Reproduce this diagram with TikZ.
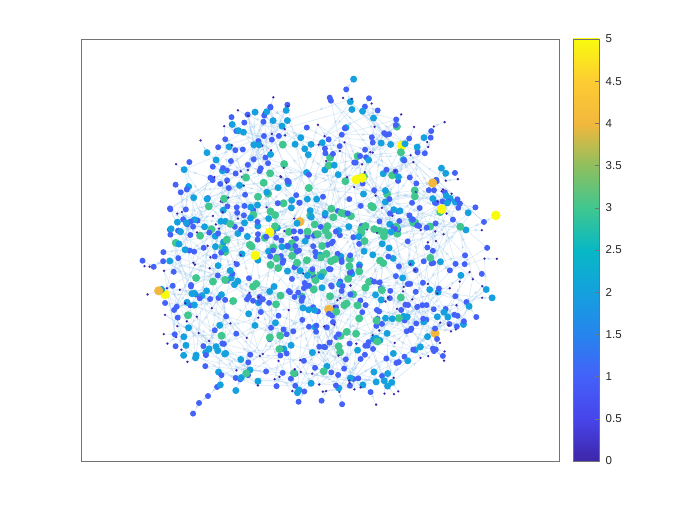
\documentclass[tikz,border=0pt]{standalone}
\usepackage{fontspec}
\setmainfont{Liberation Sans}
\usetikzlibrary{arrows.meta,decorations.markings}
\definecolor{pa0}{rgb}{0.2422,0.1504,0.6603}
\definecolor{pa1}{rgb}{0.2780,0.2700,0.9200}
\definecolor{pa2}{rgb}{0.2650,0.3800,0.9750}
\definecolor{pa3}{rgb}{0.1500,0.5200,0.9300}
\definecolor{pa4}{rgb}{0.0800,0.6300,0.8700}
\definecolor{pa5}{rgb}{0.0300,0.7200,0.7700}
\definecolor{pa6}{rgb}{0.2500,0.7800,0.5600}
\definecolor{pa7}{rgb}{0.5600,0.7500,0.3700}
\definecolor{pa8}{rgb}{0.9500,0.7200,0.2400}
\definecolor{pa9}{rgb}{0.9900,0.8000,0.2000}
\definecolor{pa10}{rgb}{0.9763,0.9831,0.0538}
\colorlet{c0}{pa0}\colorlet{c1}{pa2}\colorlet{c2}{pa4}
\colorlet{c3}{pa6}\colorlet{c4}{pa8}\colorlet{c5}{pa10}
\definecolor{edgec}{rgb}{0.70,0.83,0.94}
\definecolor{axcol}{rgb}{0.45,0.45,0.45}
\pgfdeclareverticalshading{parula}{100bp}{color(0bp)=(pa0); color(25bp)=(pa0);
 color(30bp)=(pa1); color(35bp)=(pa2); color(40bp)=(pa3); color(45bp)=(pa4);
 color(50bp)=(pa5); color(55bp)=(pa6); color(60bp)=(pa7); color(65bp)=(pa8);
 color(70bp)=(pa9); color(75bp)=(pa10); color(100bp)=(pa10)}
\expandafter\def\csname RAD0\endcsname{1.3pt}
\expandafter\def\csname RAD1\endcsname{3.0pt}
\expandafter\def\csname RAD2\endcsname{3.5pt}
\expandafter\def\csname RAD3\endcsname{4.0pt}
\expandafter\def\csname RAD4\endcsname{4.6pt}
\expandafter\def\csname RAD5\endcsname{4.8pt}
\def\NM{840}
\def\NN{950}
\newcommand\findnear[3]{% node, tries, upper index
  \gdef\best{0}\gdef\bestd{9999}%
  \edef\mynx{\csname PX#1\endcsname}\edef\myny{\csname PY#1\endcsname}%
  \foreach \k in {1,...,#2}{%
    \pgfmathtruncatemacro\jj{random(1,#3)}%
    \ifnum\jj=#1\relax\else
      \edef\myxj{\csname PX\jj\endcsname}\edef\myyj{\csname PY\jj\endcsname}%
      \pgfmathsetmacro\ddx{(\mynx-\myxj)/10}%
      \pgfmathsetmacro\ddy{(\myny-\myyj)/10}%
      \pgfmathsetmacro\dd{\ddx*\ddx+\ddy*\ddy}%
      \pgfmathtruncatemacro\ok{\dd<\bestd}%
      \ifnum\ok=1 \xdef\best{\jj}\xdef\bestd{\dd}\fi
    \fi
  }%
}
\newcommand\pickouter[1]{% choose among tries the node with largest radius
  \gdef\parb{1}\gdef\parr{0}%
  \foreach \k in {1,...,#1}{%
    \pgfmathtruncatemacro\jj{random(1,\cnt)}%
    \edef\myrj{\csname PR\jj\endcsname}%
    \pgfmathtruncatemacro\ok{\myrj>\parr}%
    \ifnum\ok=1 \xdef\parb{\jj}\xdef\parr{\myrj}\fi
  }%
}
\newcommand\setval[2]{% radius value, result macro
  \pgfmathsetmacro\ua{rnd}%
  \pgfmathsetmacro\ss{rnd+0.35*(0.45-#1)}%
  \pgfmathtruncatemacro#2{\ua<0.009 ? 4 : (\ua<0.018 ? 5 : (\ss<0.15 ? 0 : (\ss<0.57 ? 1 : (\ss<0.81 ? 2 : 3))))}%
}
\begin{document}
\begin{tikzpicture}[x=1pt,y=-1pt,
  edge/.style={draw=edgec, draw opacity=0.55, line width=0.5pt,
    postaction={decorate, decoration={markings,
      mark=at position 0.5 with {\arrow[edgec, opacity=0.55]{Stealth[length=3.5pt,width=3pt]}}}}},
  lab/.style={anchor=west, inner sep=1.5pt, font=\fontsize{11.5}{13}\selectfont, text=black!85}]
\useasboundingbox[fill=white] (0,0) rectangle (692,519);
\pgfmathsetseed{2024}
% main cloud
\foreach \i in {1,...,\NM}{
  \pgfmathsetmacro\ang{360*rnd}
  \pgfmathsetmacro\rr{(rnd*0.999+0.001)^0.58*(1+0.04*sin(3*\ang+40)+0.03*cos(5*\ang))}
  \pgfmathsetmacro\px{319+165*\rr*cos(\ang)}
  \pgfmathsetmacro\py{250+150*\rr*sin(\ang)}
  \setval{\rr}{\vv}
  \expandafter\xdef\csname PX\i\endcsname{\px}
  \expandafter\xdef\csname PY\i\endcsname{\py}
  \expandafter\xdef\csname PR\i\endcsname{\rr}
  \expandafter\xdef\csname PV\i\endcsname{\vv}
  \expandafter\xdef\csname PP\i\endcsname{0}
  \coordinate (n\i) at (\px,\py);
}
% tendrils growing outward
\pgfmathtruncatemacro\first{\NM+1}
\foreach \i in {\first,...,\NN}{
  \pgfmathtruncatemacro\cnt{\i-1}
  \xdef\cnt{\cnt}
  \pickouter{4}
  \edef\bx{\csname PX\parb\endcsname}\edef\by{\csname PY\parb\endcsname}
  \pgfmathsetmacro\ang{atan2(\by-250,\bx-319)+80*(rnd-0.5)}
  \pgfmathsetmacro\len{9+6*rnd}
  \pgfmathsetmacro\px{\bx+\len*cos(\ang)}
  \pgfmathsetmacro\py{\by+\len*sin(\ang)}
  \pgfmathsetmacro\rr{sqrt(((\px-319)/165)^2+((\py-250)/150)^2)}
  \setval{\rr}{\vv}
  \expandafter\xdef\csname PX\i\endcsname{\px}
  \expandafter\xdef\csname PY\i\endcsname{\py}
  \expandafter\xdef\csname PR\i\endcsname{\rr}
  \expandafter\xdef\csname PV\i\endcsname{\vv}
  \expandafter\xdef\csname PP\i\endcsname{\parb}
  \coordinate (n\i) at (\px,\py);
}
% edges
\foreach \i in {1,...,\NM}{
  \findnear{\i}{22}{\NM}
  \draw[edge] (n\i) -- (n\best);
  \pgfmathtruncatemacro\extra{rnd<0.5}
  \ifnum\extra=1 \findnear{\i}{10}{\NM}\draw[edge] (n\best) -- (n\i);\fi
}
\foreach \i in {\first,...,\NN}{
  \edef\pp{\csname PP\i\endcsname}
  \draw[edge] (n\pp) -- (n\i);
}
% nodes
\foreach \i in {1,...,\NN}{
  \edef\myv{\csname PV\i\endcsname}
  \fill[c\myv] (n\i) circle[radius=\csname RAD\myv\endcsname];
}
\node[draw=axcol, line width=0.8pt, minimum width=478pt, minimum height=422pt, inner sep=0pt, anchor=north west] (axes) at (81,39) {};
\shade[shading=parula] (573,39) rectangle (599,461);
\node[draw=axcol, line width=0.8pt, minimum width=26pt, minimum height=422pt, inner sep=0pt, anchor=north west] (cbar) at (573,39) {};
\foreach \k/\lab in {0/0,1/0.5,2/1,3/1.5,4/2,5/2.5,6/3,7/3.5,8/4,9/4.5,10/5}{
  \pgfmathsetmacro\yy{461-42.2*\k}
  \draw[axcol, line width=0.6pt] (595,\yy) -- (599,\yy);
  \node[lab] (t\k) at (604,\yy) {\lab};
}
\end{tikzpicture}
\end{document}
